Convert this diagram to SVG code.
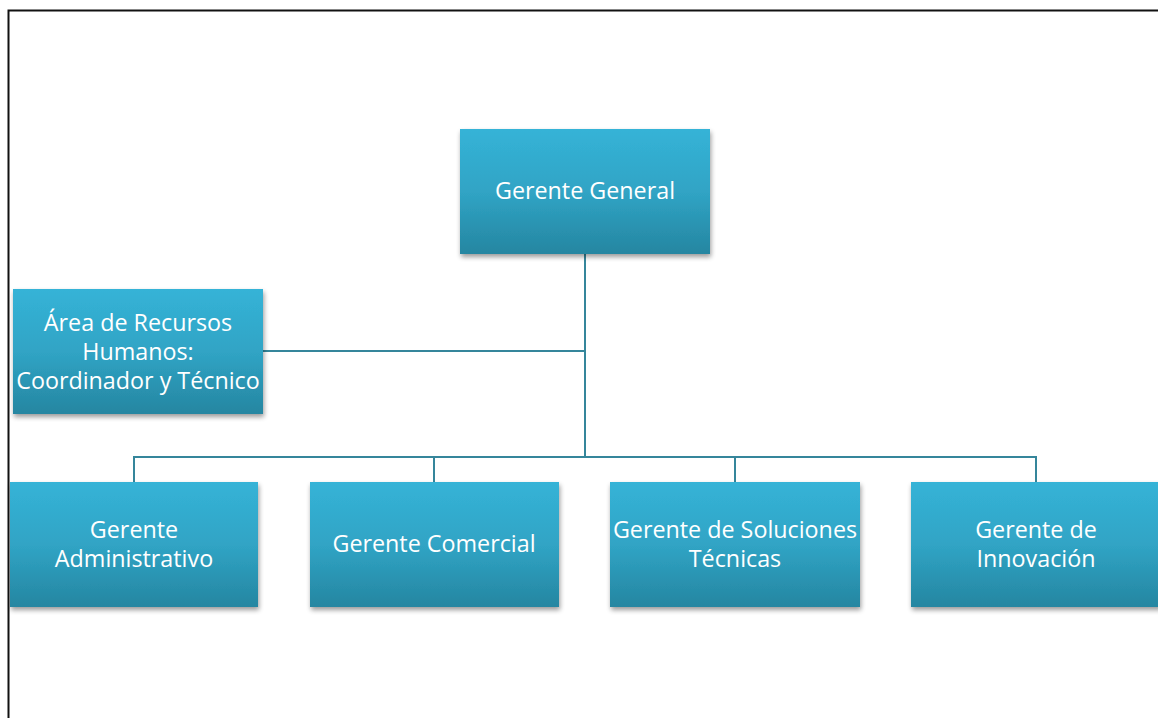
<svg xmlns="http://www.w3.org/2000/svg" width="1158" height="718" viewBox="0 0 1158 718">
<style>
.box{fill:url(#g);filter:url(#sh)}
.t{font-family:"Open Sans","Liberation Sans",sans-serif;font-size:23.3px;fill:#fff;text-anchor:middle;dominant-baseline:central}
.c{stroke:#35869B;stroke-width:2;fill:none}
</style>
<defs>
<linearGradient id="g" x1="0" y1="0" x2="0" y2="1">
<stop offset="0" stop-color="#35B3D7"/>
<stop offset="0.5" stop-color="#30A4C5"/>
<stop offset="1" stop-color="#2586A1"/>
</linearGradient>
<filter id="sh" x="-10%" y="-10%" width="125%" height="130%">
<feGaussianBlur in="SourceAlpha" stdDeviation="2.5"/>
<feOffset dx="1" dy="3" result="b"/>
<feComponentTransfer><feFuncA type="linear" slope="0.4"/></feComponentTransfer>
<feMerge><feMergeNode/><feMergeNode in="SourceGraphic"/></feMerge>
</filter>
</defs>
<rect width="1158" height="718" fill="#fff"/>
<path d="M8.5,718 V10.5 H1158" fill="none" stroke="#111" stroke-width="2"/>
<g id="connectors">
<path class="c" d="M585,254 V457"/>
<path class="c" d="M263,351 H585"/>
<path class="c" d="M134,482 V457 H1036 V482"/>
<path class="c" d="M434,457 V482"/>
<path class="c" d="M735,457 V482"/>
</g>
<g id="gerente-general">
<rect class="box" x="460" y="129" width="250" height="125"/>
<text class="t" x="585" y="190">Gerente General</text>
</g>
<g id="recursos-humanos">
<rect class="box" x="13" y="289" width="250" height="125"/>
<text class="t" x="138" y="322">Área de Recursos</text>
<text class="t" x="138" y="351">Humanos:</text>
<text class="t" x="138" y="380">Coordinador y Técnico</text>
</g>
<g id="gerente-administrativo">
<rect class="box" x="10" y="482" width="248" height="125"/>
<text class="t" x="134" y="529">Gerente</text>
<text class="t" x="134" y="558">Administrativo</text>
</g>
<g id="gerente-comercial">
<rect class="box" x="310" y="482" width="249" height="125"/>
<text class="t" x="434" y="543">Gerente Comercial</text>
</g>
<g id="gerente-soluciones">
<rect class="box" x="610" y="482" width="250" height="125"/>
<text class="t" x="735" y="529">Gerente de Soluciones</text>
<text class="t" x="735" y="558">Técnicas</text>
</g>
<g id="gerente-innovacion">
<rect class="box" x="911" y="482" width="250" height="125"/>
<text class="t" x="1036" y="529">Gerente de</text>
<text class="t" x="1036" y="558">Innovación</text>
</g>
</svg>
